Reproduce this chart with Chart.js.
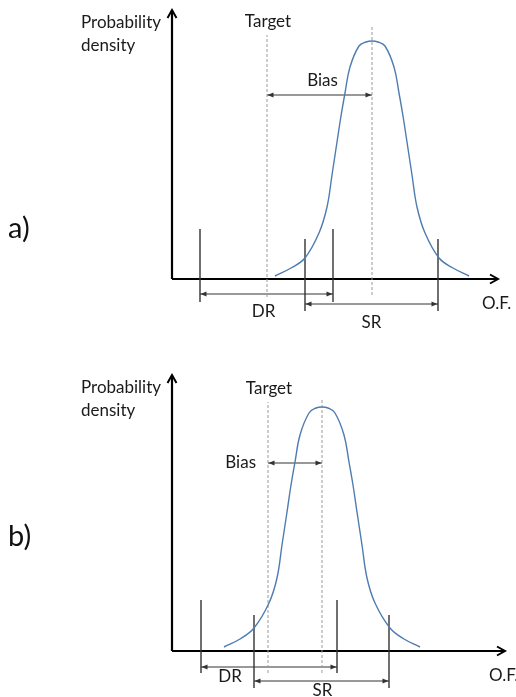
<!DOCTYPE html>
<html><head><meta charset="utf-8">
<script src="https://cdn.jsdelivr.net/npm/chart.js@4/dist/chart.umd.min.js"></script>
<style>
html,body{margin:0;padding:0;background:#fff;width:516px;height:697px;overflow:hidden}
.p{position:absolute;left:0;width:516px}
canvas{display:block}
</style></head><body>
<div class="p" style="top:0;height:330px"><canvas id="ca" width="516" height="330"></canvas></div>
<div class="p" style="top:330px;height:367px"><canvas id="cb" width="516" height="367"></canvas></div>
<script>
// ---- data ----
const panelNames = ['a)', 'b)'];
const yAxisTitle = ['Probability', 'density'];
const xAxisTitle = ['O.F.', 'O.F.'];
const targetLabel = 'Target';
const biasLabel = 'Bias';
const drLabel = 'DR';
const srLabel = 'SR';
const targetOF = [9.5, 9.6];
const meanOF = [20.0, 15.0];
const drRange = [[2.8, 16.1], [2.9, 16.5]];
const srRange = [[13.3, 26.6], [8.2, 21.7]];
const curveA_OF = [10.3, 11.9, 13.3, 14.7, 15.5, 16.0, 16.5, 16.9, 17.3, 17.8, 18.7, 19.4, 20.0, 20.6, 21.3, 22.2, 22.7, 23.1, 23.5, 24.0, 24.5, 25.3, 26.7, 28.1, 29.7];
const curveA_density = [0.3, 1.1, 2.1, 4.6, 7.2, 10.4, 13.7, 16.3, 18.6, 21.2, 23.3, 23.7, 23.8, 23.7, 23.3, 21.2, 18.6, 16.3, 13.7, 10.4, 7.2, 4.6, 2.1, 1.1, 0.3];
const curveB_OF = [5.2, 6.8, 8.2, 9.7, 10.5, 11.0, 11.5, 11.9, 12.3, 12.8, 13.7, 14.4, 15.0, 15.6, 16.3, 17.2, 17.7, 18.1, 18.5, 19.0, 19.5, 20.3, 21.8, 23.2, 24.8];
const curveB_density = [0.4, 1.2, 2.3, 4.8, 7.3, 10.6, 13.9, 16.6, 18.9, 21.6, 23.8, 24.3, 24.4, 24.3, 23.8, 21.6, 18.9, 16.6, 13.9, 10.6, 7.3, 4.8, 2.3, 1.2, 0.4];

// ---- layout (styling / geometry, not data) ----
const layouts = [
  { canvas: 'ca', yMin: -5.1, yMax: 27.9, yTop: 26.9, xEnd: 32.6,
    tgtTop: 24.4, tgtBot: -1.8, meanTop: 25.2, meanBot: -1.6,
    drTop: 5.0, drBot: -2.3, srTop: 4.0, srBot: -3.2,
    drY: -1.5, srY: -2.5, biasY: 18.4,
    biasMode: 'above', drDx: -3, drDy: 18, srDx: 0, srDy: 19, panelY: 229,
    curveX: curveA_OF, curveY: curveA_density },
  { canvas: 'cb', yMin: -4.6, yMax: 32.1, yTop: 27.6, xEnd: 33.3,
    tgtTop: 24.9, tgtBot: -2.2, meanTop: 25.1, meanBot: -2.2,
    drTop: 5.1, drBot: -2.2, srTop: 3.6, srBot: -3.7,
    drY: -1.6, srY: -3.0, biasY: 18.8,
    biasMode: 'left', drDx: -39, drDy: 10, srDx: 1, srDy: 10, panelY: 207,
    curveX: curveB_OF, curveY: curveB_density }
];

const FONT = 'Lato, "Noto Sans", sans-serif';
const INK = '#1a1a1a';

function seg(x1, y1, x2, y2, color, width, dash) {
  return { data: [{x: x1, y: y1}, {x: x2, y: y2}], showLine: true, borderColor: color,
    borderWidth: width, borderDash: dash || [], pointRadius: 0, tension: 0 };
}

function headFilled(ctx, x, y, dir) {
  ctx.beginPath();
  ctx.moveTo(x, y);
  ctx.lineTo(x - dir * 6, y - 2.5);
  ctx.lineTo(x - dir * 6, y + 2.5);
  ctx.closePath();
  ctx.fill();
}

const schemPlugin = {
  id: 'schem',
  afterDatasetsDraw(chart) {
    const i = chart.options.plugins.schem.idx;
    const L = layouts[i];
    const xs = chart.scales.x, ys = chart.scales.y;
    const X = v => xs.getPixelForValue(v), Y = v => ys.getPixelForValue(v);
    const ctx = chart.ctx;
    ctx.save();
    ctx.strokeStyle = '#000'; ctx.fillStyle = '#000';
    ctx.lineWidth = 2;
    const ax = X(0), ay = Y(0);
    ctx.beginPath();
    ctx.moveTo(ax - 4.5, Y(L.yTop) + 8); ctx.lineTo(ax, Y(L.yTop)); ctx.lineTo(ax + 4.5, Y(L.yTop) + 8);
    ctx.stroke();
    ctx.beginPath();
    ctx.moveTo(X(L.xEnd) - 8, ay - 4.5); ctx.lineTo(X(L.xEnd), ay); ctx.lineTo(X(L.xEnd) - 8, ay + 4.5);
    ctx.stroke();
    ctx.fillStyle = '#333';
    headFilled(ctx, X(targetOF[i]) + 0.5, Y(L.biasY), -1);
    headFilled(ctx, X(meanOF[i]) - 0.5, Y(L.biasY), 1);
    headFilled(ctx, X(drRange[i][0]) + 0.5, Y(L.drY), -1);
    headFilled(ctx, X(drRange[i][1]) - 0.5, Y(L.drY), 1);
    headFilled(ctx, X(srRange[i][0]) + 0.5, Y(L.srY), -1);
    headFilled(ctx, X(srRange[i][1]) - 0.5, Y(L.srY), 1);
    ctx.fillStyle = INK;
    ctx.font = '17px ' + FONT;
    ctx.textBaseline = 'middle';
    ctx.textAlign = 'left';
    ctx.fillText(yAxisTitle[0], ax - 91, Y(L.yTop) + 13);
    ctx.fillText(yAxisTitle[1], ax - 91, Y(L.yTop) + 36);
    ctx.fillText(xAxisTitle[i], X(L.xEnd) - 16, ay + 25);
    ctx.textAlign = 'center';
    ctx.fillText(targetLabel, X(targetOF[i]) + 1, Y(L.tgtTop) - 13);
    if (L.biasMode === 'above') {
      ctx.fillText(biasLabel, (X(targetOF[i]) + X(meanOF[i])) / 2 + 3, Y(L.biasY) - 14);
    } else {
      ctx.textAlign = 'right';
      ctx.fillText(biasLabel, X(targetOF[i]) - 12, Y(L.biasY));
      ctx.textAlign = 'center';
    }
    ctx.fillText(drLabel, (X(drRange[i][0]) + X(drRange[i][1])) / 2 + L.drDx, Y(L.drY) + L.drDy);
    ctx.fillText(srLabel, (X(srRange[i][0]) + X(srRange[i][1])) / 2 + L.srDx, Y(L.srY) + L.srDy);
    ctx.textAlign = 'left';
    ctx.font = '29px ' + FONT;
    ctx.fillStyle = '#111';
    ctx.fillText(panelNames[i], 8, L.panelY);
    ctx.restore();
  }
};

function makeChart(i) {
  const L = layouts[i];
  const grey = '#9a9a9a', dark = '#333';
  const datasets = [
    { data: L.curveX.map((x, k) => ({x, y: L.curveY[k]})), showLine: true,
      borderColor: '#4f7cb0', borderWidth: 1.4, pointRadius: 0, tension: 0.4 },
    seg(targetOF[i], L.tgtBot, targetOF[i], L.tgtTop, grey, 1, [3, 2]),
    seg(meanOF[i], L.meanBot, meanOF[i], L.meanTop, grey, 1, [3, 2]),
    seg(drRange[i][0], L.drBot, drRange[i][0], L.drTop, dark, 1.4),
    seg(drRange[i][1], L.drBot, drRange[i][1], L.drTop, dark, 1.4),
    seg(srRange[i][0], L.srBot, srRange[i][0], L.srTop, dark, 1.4),
    seg(srRange[i][1], L.srBot, srRange[i][1], L.srTop, dark, 1.4),
    seg(targetOF[i], L.biasY, meanOF[i], L.biasY, dark, 1),
    seg(drRange[i][0], L.drY, drRange[i][1], L.drY, dark, 1),
    seg(srRange[i][0], L.srY, srRange[i][1], L.srY, dark, 1),
    seg(0, 0, 0, L.yTop, '#000', 2.2),
    seg(0, 0, L.xEnd, 0, '#000', 2.2)
  ];
  return new Chart(document.getElementById(L.canvas), {
    type: 'scatter',
    data: { datasets },
    options: {
      responsive: false, animation: false, devicePixelRatio: 1,
      layout: { padding: 0 },
      scales: {
        x: { type: 'linear', min: -17.2, max: 34.4, display: false },
        y: { type: 'linear', min: L.yMin, max: L.yMax, display: false }
      },
      plugins: { legend: { display: false }, tooltip: { enabled: false }, schem: { idx: i } }
    },
    plugins: [schemPlugin]
  });
}
makeChart(0);
makeChart(1);
</script>
</body></html>
